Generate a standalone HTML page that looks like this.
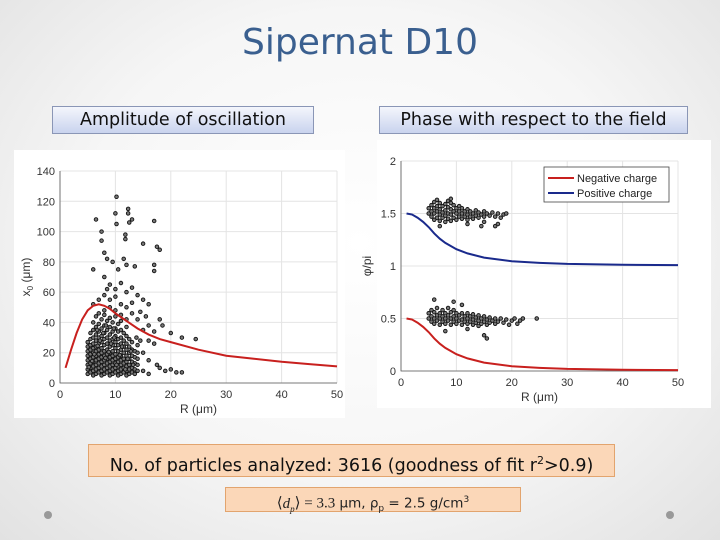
<!DOCTYPE html>
<html><head><meta charset="utf-8"><style>
body{margin:0;width:720px;height:540px;overflow:hidden;font-family:"DejaVu Sans","Liberation Sans",sans-serif;}
#slide{position:relative;width:720px;height:540px;background:radial-gradient(ellipse at 50% 45%,#ffffff 0%,#f6f6f6 55%,#e2e2e2 100%);}
.box{position:absolute;text-align:center;box-sizing:border-box;white-space:nowrap;}
.hdr{background:linear-gradient(#f4f6fc,#c9d3ee);border:1px solid #8a96b6;font-size:17.5px;color:#111;line-height:27px;}
</style></head><body>
<div id="slide">
<div class="box" style="left:0;top:22px;width:720px;font-size:36px;color:#3a5f8f;">Sipernat D10</div>
<div class="box hdr" style="left:52px;top:106px;width:262px;height:28px;">Amplitude of oscillation</div>
<div class="box hdr" style="left:379px;top:106px;width:309px;height:28px;">Phase with respect to the field</div>
<div class="box" style="left:88px;top:444px;width:527px;height:33px;background:#fbd7b8;border:1px solid #e2a46e;font-size:17.5px;line-height:31px;color:#111;">No. of particles analyzed: 3616 (goodness of fit r<sup style="font-size:11px">2</sup>&gt;0.9)</div>
<div class="box" style="left:225px;top:487px;width:296px;height:25px;background:#fbd7b8;border:1px solid #e2a46e;font-size:13.5px;line-height:24px;color:#222;"><span style="font-family:'Liberation Serif',serif;font-size:15px">⟨<i>d<sub style="font-size:9px">p</sub></i>⟩ = 3.3</span> μm, ρ<sub style="font-size:9px">p</sub> = 2.5 g/cm<sup style="font-size:9px">3</sup></div>
<div style="position:absolute;left:44px;top:511px;width:8px;height:8px;border-radius:50%;background:#999;"></div>
<div style="position:absolute;left:666px;top:511px;width:8px;height:8px;border-radius:50%;background:#999;"></div>
<svg id="svg" width="720" height="540" style="position:absolute;left:0;top:0;font-family:'Liberation Sans',sans-serif"></svg>
</div>
<script>
const ampTicksX=[0,10,20,30,40,50];
const ampTicksY=[0,20,40,60,80,100,120,140];
const ampFitR=[1,2,3,4,5,6,7,8,9,10,12,14,16,18,20,25,30,35,40,45,50];
const ampFitX=[10,22,33,42,48,51,52,51,49,46,41,36,32,29,27,22,18,16,14,12.5,11];
const ampPts="5,6 5,9 5,12 5,15 5,18 5,21 5,24 5,27 5.5,7 5.5,10 5.5,13 5.5,16 5.5,19 5.5,22 5.5,25 5.5,29 5.5,33 6,5 6,8 6,11 6,14 6,17 6,20 6,23 6,26 6,30 6,35 6,40 6.5,6 6.5,9 6.5,12 6.5,15 6.5,18 6.5,21 6.5,24 6.5,28 6.5,32 6.5,37 6.5,44 7,7 7,10 7,13 7,16 7,19 7,22 7,26 7,30 7,34 7,39 7,46 7.5,5 7.5,8 7.5,11 7.5,14 7.5,17 7.5,20 7.5,23 7.5,27 7.5,31 7.5,36 7.5,42 8,6 8,9 8,12 8,15 8,18 8,21 8,25 8,29 8,33 8,38 8,45 8.5,7 8.5,10 8.5,13 8.5,16 8.5,19 8.5,22 8.5,26 8.5,30 8.5,35 8.5,41 9,5 9,8 9,11 9,14 9,17 9,20 9,24 9,28 9,32 9,37 9,43 9.5,6 9.5,9 9.5,12 9.5,15 9.5,18 9.5,21 9.5,25 9.5,29 9.5,34 9.5,40 10,7 10,10 10,13 10,16 10,19 10,23 10,27 10,31 10,36 10,44 10.5,5 10.5,8 10.5,11 10.5,14 10.5,17 10.5,21 10.5,25 10.5,29 10.5,34 10.5,39 11,6 11,9 11,12 11,15 11,18 11,22 11,26 11,30 11,35 11,41 11.5,7 11.5,10 11.5,13 11.5,16 11.5,20 11.5,24 11.5,28 11.5,33 12,5 12,8 12,11 12,14 12,18 12,22 12,26 12,31 12,37 12.5,6 12.5,9 12.5,12 12.5,16 12.5,20 12.5,24 12.5,29 13,7 13,10 13,14 13,18 13,22 13,27 13.5,6 13.5,9 13.5,13 13.5,17 13.5,21 14,8 14,12 14,16 14,20 14,25 5.2,10.5 5.8,14.5 6.2,19 6.8,24.5 7.2,28 7.8,33 8.2,16.5 8.8,20.5 9.2,26 9.8,30 10.2,12 10.8,18.5 11.2,24 11.8,9 12.2,16 12.8,21 13.2,12 6.7,35 8.3,38 9.7,36 6.5,108 7.5,100 7.5,94 8,86 8.5,82 10.2,123 10,112 10.2,105 12.3,115 12.3,112 12.5,106 13,108 11.8,98 11.8,95 9.5,80 10.5,75 11.5,82 12,78 13.5,77 15,92 17,107 17.5,90 18,88 17,78 17,74 6,75 8,70 9,65 10,62 11,66 12,60 13,63 14,58 15,55 16,52 14.5,47 16,38 17,34 18,42 18.5,38 20,33 22,30 24.5,29 16,28 17,26 15,20 16,15 17.5,12 19,8 20,9 21,7 22,7 18,10 15,8 16,6 8,58 9,55 11,52 12,50 13,46 7,55 8.5,62 6,52 10,57 13,53 15.5,44 14,42 15,35 14.5,28 13.8,30 9,50 10,48 11,45 8,48 12,42";
const phaseTicksX=[0,10,20,30,40,50];
const phaseTicksY=[0,0.5,1,1.5,2];
const phaseR=[1,2,3,4,5,6,7,8,10,12,15,20,25,30,40,50];
const negCharge=[0.5,0.49,0.46,0.42,0.37,0.31,0.26,0.22,0.16,0.12,0.08,0.045,0.03,0.02,0.012,0.008];
const posCharge=[1.5,1.49,1.46,1.42,1.37,1.31,1.26,1.22,1.16,1.12,1.08,1.045,1.03,1.02,1.012,1.008];
const phasePts="5,1.5 5,1.55 5.5,1.47 5.5,1.52 5.5,1.58 6,1.44 6,1.5 6,1.55 6,1.61 6.5,1.46 6.5,1.52 6.5,1.57 6.5,1.63 7,1.43 7,1.49 7,1.54 7,1.6 7.5,1.46 7.5,1.51 7.5,1.57 8,1.42 8,1.48 8,1.53 8,1.59 8.5,1.45 8.5,1.5 8.5,1.56 8.5,1.62 9,1.43 9,1.49 9,1.54 9,1.6 9.5,1.46 9.5,1.52 9.5,1.58 10,1.44 10,1.5 10,1.55 10.5,1.47 10.5,1.52 10.5,1.57 11,1.45 11,1.5 11,1.55 11.5,1.47 11.5,1.52 12,1.44 12,1.49 12,1.54 12.5,1.47 12.5,1.52 13,1.45 13,1.5 13.5,1.48 13.5,1.53 14,1.46 14,1.51 14.5,1.49 15,1.47 15,1.52 15.5,1.5 16,1.48 16.5,1.51 17,1.47 17.5,1.5 18,1.46 18.5,1.49 19,1.5 17,1.38 17.5,1.4 14.5,1.38 15,1.42 12,1.4 7,1.38 9,1.64 "+
"5,0.5 5,0.55 5.5,0.47 5.5,0.52 5.5,0.58 6,0.45 6,0.5 6,0.56 6.5,0.48 6.5,0.53 6.5,0.6 7,0.44 7,0.5 7,0.55 7.5,0.47 7.5,0.52 7.5,0.58 8,0.45 8,0.5 8,0.55 8.5,0.48 8.5,0.53 8.5,0.6 9,0.44 9,0.5 9,0.56 9.5,0.47 9.5,0.52 9.5,0.58 10,0.45 10,0.5 10,0.55 10.5,0.48 10.5,0.53 11,0.44 11,0.49 11,0.55 11.5,0.47 11.5,0.52 12,0.45 12,0.5 12,0.55 12.5,0.47 12.5,0.52 13,0.44 13,0.49 13,0.54 13.5,0.46 13.5,0.51 14,0.43 14,0.48 14,0.53 14.5,0.45 14.5,0.5 15,0.47 15,0.52 15.5,0.44 15.5,0.49 16,0.46 16,0.51 16.5,0.48 17,0.45 17,0.5 17.5,0.47 18,0.5 18.5,0.46 19,0.49 19.5,0.44 20,0.48 20.5,0.5 21,0.45 21.5,0.48 22,0.5 24.5,0.5 15,0.34 15.5,0.31 12,0.4 9.5,0.66 6,0.68 11,0.63 8,0.38";
const svg=document.getElementById('svg');
const NS='http://www.w3.org/2000/svg';
function mk(t,a,p){const e=document.createElementNS(NS,t);for(const k in a)e.setAttribute(k,a[k]);(p||svg).appendChild(e);return e;}
function parse(s){return s.split(' ').map(p=>p.split(',').map(Number));}
function chart(o){
  const g=mk('g',{});
  
  
  const bg=mk('rect',{x:o.px,y:o.py,width:o.pw,height:o.ph,fill:'#fff'},g);
  
  
  const sx=v=>o.x0+(v-o.xmin)/(o.xmax-o.xmin)*(o.x1-o.x0);
  const sy=v=>o.y0-(v-o.ymin)/(o.ymax-o.ymin)*(o.y0-o.y1);
  o.tx.forEach(t=>{
    const l=mk('line',{x1:sx(t),x2:sx(t),y1:o.y0,y2:o.y1,stroke:'#e4e4e4','stroke-width':1},g);
    
    
    const tx=mk('text',{x:sx(t),y:o.y0+15,'text-anchor':'middle','font-size':11,fill:'#333'},g);tx.textContent=t;
    
    
  });
  o.ty.forEach(t=>{
    const l=mk('line',{x1:o.x0,x2:o.x1,y1:sy(t),y2:sy(t),stroke:'#e4e4e4','stroke-width':1},g);
    
    
    const tx=mk('text',{x:o.x0-5,y:sy(t)+4,'text-anchor':'end','font-size':11,fill:'#333'},g);tx.textContent=t;
    
    
  });
  const ax=mk('path',{d:`M${o.x0},${o.y1}V${o.y0}H${o.x1}`,stroke:'#555',fill:'none','stroke-width':0.8},g);
  
  
  const xt=mk('text',{x:(o.x0+o.x1)/2,y:o.y0+30,'text-anchor':'middle','font-size':12,fill:'#333'},g);xt.textContent='R (μm)';
  
  
  const yt=mk('text',{x:0,y:0,'text-anchor':'middle','font-size':12,fill:'#333',transform:`translate(${o.x0-30},${(o.y0+o.y1)/2}) rotate(-90)`},g);yt.innerHTML=o.ytitle;
  
  
  o.pts.forEach(p=>{
    const c=mk('circle',{cx:sx(p[0]),cy:sy(p[1]),r:1.8,fill:'#777',stroke:'#111','stroke-width':0.9},g);
    
    
  });
  o.lines.forEach(L=>{
    const d=L.xs.map((x,i)=>(i?'L':'M')+sx(x)+','+sy(L.ys[i])).join('');
    const p=mk('path',{d:d,stroke:L.c,fill:'none','stroke-width':2},g);
    
    
  });
  return g;
}
chart({name:'amplitude-chart',px:14,py:150,pw:331,ph:268,x0:60,x1:337,y0:383,y1:171,xmin:0,xmax:50,ymin:0,ymax:140,tx:ampTicksX,ty:ampTicksY,
  ytitle:'x<tspan font-size="8" dy="3">0</tspan><tspan dy="-3"> (μm)</tspan>',pts:parse(ampPts),lines:[{xs:ampFitR,ys:ampFitX,c:'#c8201e',n:'amplitude-fit-line'}]});
const g2=chart({name:'phase-chart',px:377,py:140,pw:334,ph:268,x0:401,x1:678,y0:371,y1:161,xmin:0,xmax:50,ymin:0,ymax:2,tx:phaseTicksX,ty:phaseTicksY,
  ytitle:'φ/pi',pts:parse(phasePts),lines:[{xs:phaseR,ys:negCharge,c:'#c8201e',n:'negative-charge-line'},{xs:phaseR,ys:posCharge,c:'#1a2a8c',n:'positive-charge-line'}]});
const lg=mk('g',{},g2);


mk('rect',{x:544,y:167,width:125,height:35,fill:'#fff',stroke:'#444','stroke-width':0.8},lg);
[['Negative charge','#c8201e',179],['Positive charge','#1a2a8c',194]].forEach(e=>{
  const l=mk('line',{x1:548,x2:574,y1:e[2]-1,y2:e[2]-1,stroke:e[1],'stroke-width':2},lg);
  
  
  const t=mk('text',{x:577,y:e[2]+3,'font-size':11,fill:'#222'},lg);t.textContent=e[0];
  
  
});
</script>
</body></html>
